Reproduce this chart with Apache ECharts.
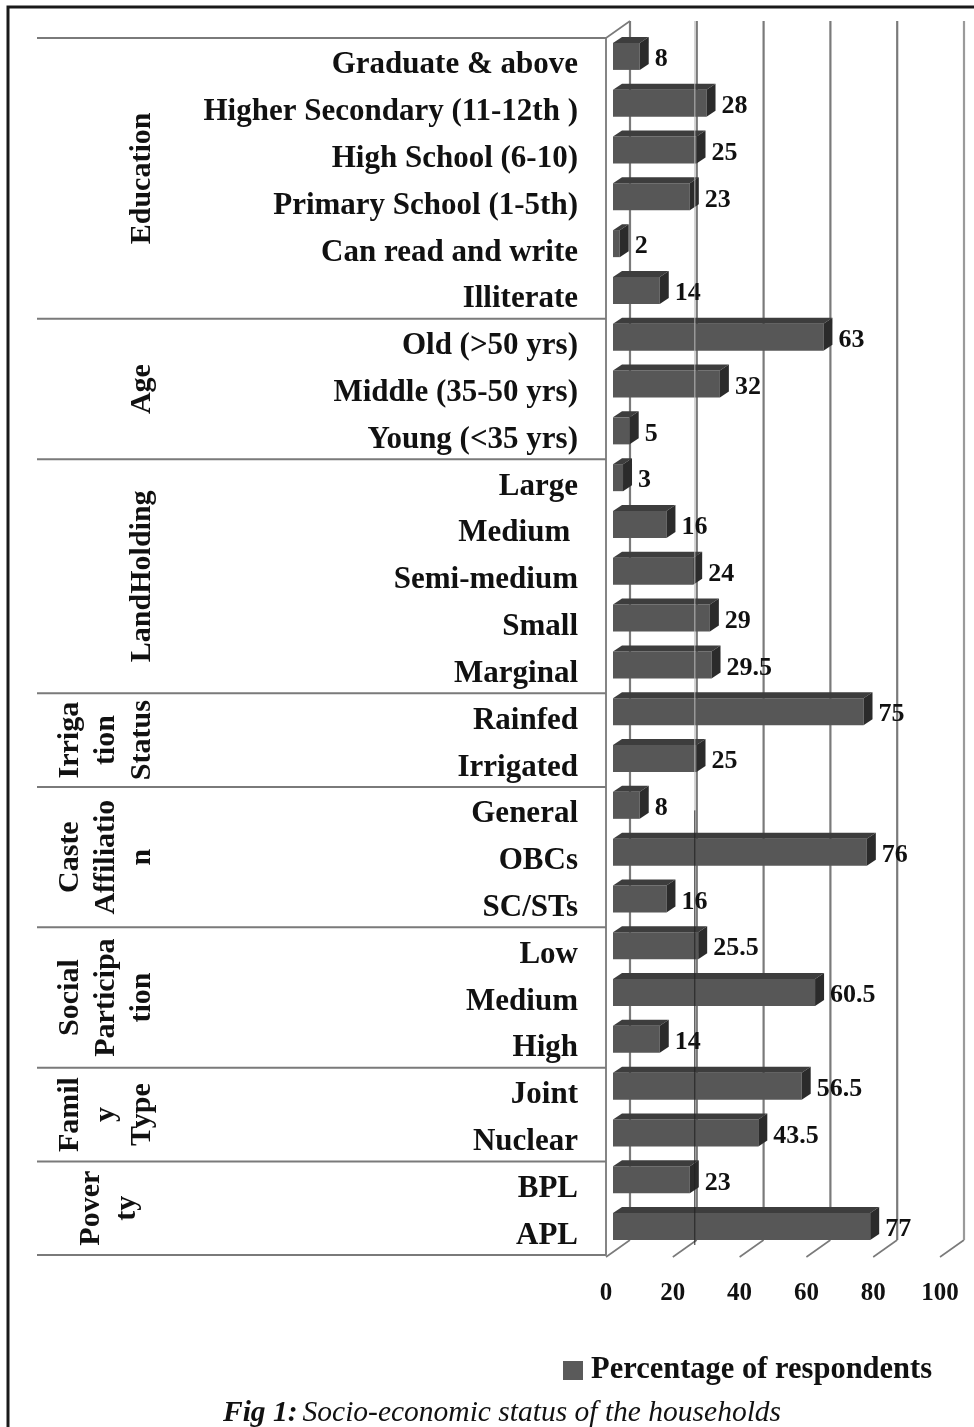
<!DOCTYPE html>
<html>
<head>
<meta charset="utf-8">
<script src="https://cdn.jsdelivr.net/npm/echarts@6/dist/echarts.min.js"></script>
<style>
  html, body { margin: 0; padding: 0; background: #ffffff; }
  #chart { width: 974px; height: 1427px; }
</style>
</head>
<body>
<div id="chart"></div>
<script>
// ---- data ----
const categories = [
  'Graduate & above', 'Higher Secondary (11-12th )', 'High School (6-10)', 'Primary School (1-5th)',
  'Can read and write', 'Illiterate',
  'Old (>50 yrs)', 'Middle (35-50 yrs)', 'Young (<35 yrs)',
  'Large', 'Medium ', 'Semi-medium', 'Small', 'Marginal',
  'Rainfed', 'Irrigated',
  'General', 'OBCs', 'SC/STs',
  'Low', 'Medium', 'High',
  'Joint', 'Nuclear',
  'BPL', 'APL'
];
const values = [8, 28, 25, 23, 2, 14, 63, 32, 5, 3, 16, 24, 29, 29.5, 75, 25, 8, 76, 16, 25.5, 60.5, 14, 56.5, 43.5, 23, 77];
const groupNames = [
  ['Education'], ['Age'], ['LandHolding'], ['Irriga', 'tion', 'Status'],
  ['Caste', 'Affiliatio', 'n'], ['Social', 'Participa', 'tion'], ['Famil', 'y', 'Type'], ['Pover', 'ty']
];
const groupSizes = [6, 3, 5, 2, 3, 3, 2, 2];
const xTicks = [0, 20, 40, 60, 80, 100];
const seriesName = 'Percentage of respondents';
const captionBold = 'Fig 1:';
const captionText = 'Socio-economic status of the households';

// ---- style constants ----
const SERIF = '"Liberation Serif", "DejaVu Serif", serif';
const GRID_COLOR = '#7a7a7a';
const DEPTH_X = 24, DEPTH_Y = -17;

const groupStarts = [];
{ let s = 0; groupSizes.forEach(n => { groupStarts.push(s); s += n; }); }

const chart = echarts.init(document.getElementById('chart'));

const option = {
  backgroundColor: '#ffffff',
  animation: false,
  title: {
    text: '{b|' + captionBold + '} {i|' + captionText + '}',
    left: 218,
    top: 1393,
    textStyle: {
      rich: {
        b: { fontFamily: SERIF, fontStyle: 'italic', fontWeight: 'bold', fontSize: 29.5, color: '#111' },
        i: { fontFamily: SERIF, fontStyle: 'italic', fontWeight: 'normal', fontSize: 29.5, color: '#111' }
      }
    }
  },
  legend: {
    data: [seriesName],
    left: 558,
    top: 1350,
    icon: 'rect',
    itemWidth: 20,
    itemHeight: 19,
    textStyle: { fontFamily: SERIF, fontWeight: 'bold', fontSize: 30.5, color: '#111', padding: [0, 0, 0, 3] }
  },
  graphic: [{
    type: 'rect',
    shape: { x: 8, y: 7, width: 1100, height: 1600 },
    style: { fill: 'none', stroke: '#1a1a1a', lineWidth: 3 },
    silent: true
  }],
  grid: { left: 606, top: 38, right: 34, bottom: 172, containLabel: false },
  xAxis: {
    type: 'value',
    min: 0, max: 100, interval: 20,
    axisLine: { show: false },
    axisTick: { show: false },
    splitLine: { show: false },
    axisLabel: {
      margin: 26,
      fontFamily: SERIF, fontWeight: 'bold', fontSize: 25, color: '#111'
    }
  },
  yAxis: {
    type: 'category',
    data: categories,
    inverse: true,
    axisLine: { show: true, lineStyle: { color: '#858585', width: 2 } },
    axisTick: { show: false },
    splitLine: { show: false },
    axisLabel: {
      margin: 28,
      formatter: function (v) { return '{c|' + v + '}'; },
      rich: {
        c: { fontFamily: SERIF, fontWeight: 'bold', fontSize: 31, color: '#111', padding: [8, 0, 0, 0] }
      }
    }
  },
  series: [
    // back wall + floor gridlines
    {
      type: 'custom',
      name: 'walls',
      silent: true,
      z: 1,
      data: xTicks.map(v => [v, 0]),
      encode: { x: 0, y: 1 },
      renderItem: function (params, api) {
        const cs = params.coordSys;
        const v = api.value(0);
        const x = api.coord([v, 0])[0];
        const top = cs.y, bottom = cs.y + cs.height;
        const children = [
          { type: 'line', shape: { x1: x, y1: bottom + 2, x2: x + DEPTH_X, y2: bottom + 2 + DEPTH_Y }, style: { stroke: GRID_COLOR, lineWidth: 1.6 } },
          { type: 'line', shape: { x1: x + DEPTH_X, y1: bottom + DEPTH_Y + 2, x2: x + DEPTH_X, y2: top + DEPTH_Y }, style: { stroke: v === 100 ? '#9a9a9a' : GRID_COLOR, lineWidth: 2.2 } }
        ];
        if (v === 0) {
          children.push({ type: 'line', shape: { x1: x, y1: top, x2: x + DEPTH_X, y2: top + DEPTH_Y }, style: { stroke: GRID_COLOR, lineWidth: 1.6 } });
        }
        return { type: 'group', children: children };
      }
    },
    // group separators and group labels
    {
      type: 'custom',
      name: 'groups',
      silent: true,
      z: 1,
      data: groupSizes.map((n, g) => [0, groupStarts[g], n, g]),
      encode: { x: 0, y: 1 },
      renderItem: function (params, api) {
        const cs = params.coordSys;
        const start = api.value(1), n = api.value(2), g = api.value(3);
        const band = api.size([0, 1])[1];
        const yTop = api.coord([0, start])[1] - band / 2;
        const yBot = yTop + band * n;
        const lines = groupNames[g];
        const lx = lines.length === 1 ? 142 : (lines.length === 3 ? 106 : 109);
        const children = [
          { type: 'line', shape: { x1: 37, y1: yTop, x2: cs.x, y2: yTop }, style: { stroke: '#7a7a7a', lineWidth: 2 } },
          {
            type: 'text', x: lx, y: (yTop + yBot) / 2, rotation: Math.PI / 2,
            style: {
              text: lines.join('\n'), align: 'center', verticalAlign: 'middle',
              fontFamily: SERIF, fontWeight: 'bold', fontSize: 30, lineHeight: 36, fill: '#111'
            }
          }
        ];
        if (g === groupSizes.length - 1) {
          children.push({ type: 'line', shape: { x1: 37, y1: yBot, x2: cs.x, y2: yBot }, style: { stroke: '#7a7a7a', lineWidth: 2 } });
        }
        return { type: 'group', children: children };
      }
    },
    // 3D-looking bars
    {
      type: 'custom',
      name: seriesName,
      z: 3,
      itemStyle: { color: '#5a5a5a' },
      data: values.map((v, i) => [v, i]),
      encode: { x: 0, y: 1 },
      renderItem: function (params, api) {
        const v = api.value(0), i = api.value(1);
        const p0 = api.coord([0, i]);
        const p1 = api.coord([v, i]);
        const ox = 7, oy = -5, h = 27, dx = 9, dy = -6;
        const xl = p0[0] + ox, xr = p1[0] + ox;
        const yc = p0[1] + oy, yt = yc - h / 2, yb = yc + h / 2;
        return {
          type: 'group',
          children: [
            { type: 'rect', shape: { x: xl, y: yt, width: Math.max(xr - xl, 1), height: h }, style: { fill: '#575757' } },
            { type: 'polygon', shape: { points: [[xl, yt], [xr, yt], [xr + dx, yt + dy], [xl + dx, yt + dy]] }, style: { fill: '#3d3d3d' } },
            { type: 'polygon', shape: { points: [[xr, yt], [xr + dx, yt + dy], [xr + dx, yb + dy], [xr, yb]] }, style: { fill: '#2b2b2b' } },
            {
              type: 'text', x: xr + dx + 6, y: yc + 3,
              style: {
                text: String(v), align: 'left', verticalAlign: 'middle',
                fontFamily: SERIF, fontWeight: 'bold', fontSize: 26, fill: '#111'
              }
            }
          ]
        };
      }
    },
    // overlay artifact: the 20 back-wall line drawn over the bars
    {
      type: 'custom',
      name: 'overlay',
      silent: true,
      z: 5,
      data: [[20, 0]],
      encode: { x: 0, y: 1 },
      renderItem: function (params, api) {
        const cs = params.coordSys;
        const x = api.coord([api.value(0), 0])[0] + DEPTH_X - 2;
        const top = cs.y + DEPTH_Y;
        const mid = api.coord([0, 16])[1];
        const bottom = cs.y + cs.height - 10;
        return {
          type: 'group',
          children: [
            { type: 'line', shape: { x1: x, y1: top, x2: x, y2: mid }, style: { stroke: 'rgba(190,190,190,0.8)', lineWidth: 1.2 } },
            { type: 'line', shape: { x1: x, y1: mid, x2: x, y2: bottom }, style: { stroke: '#222', lineWidth: 1 } }
          ]
        };
      }
    }
  ]
};

chart.setOption(option);
</script>
</body>
</html>
